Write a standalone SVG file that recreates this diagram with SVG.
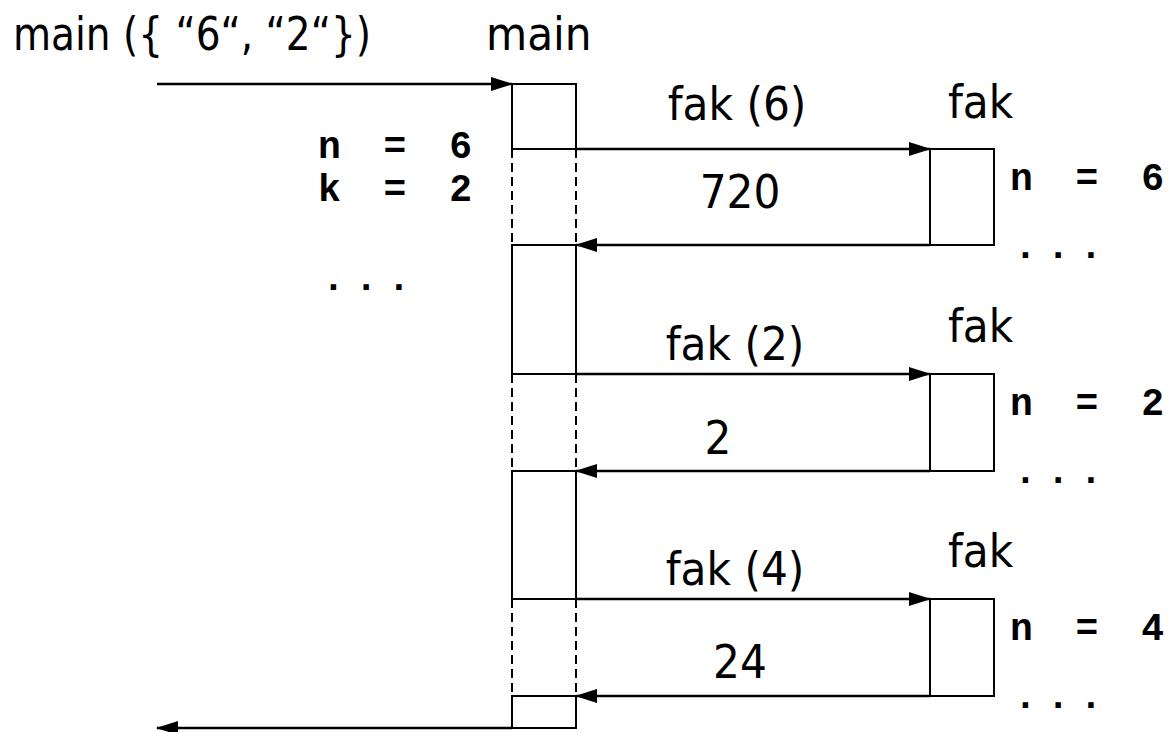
<svg xmlns="http://www.w3.org/2000/svg" width="1175" height="732" viewBox="0 0 1175 732">
<style>
.s{font-family:"DejaVu Sans Condensed","DejaVu Sans",sans-serif;font-size:47px;fill:#000}
.m{font-family:"Liberation Mono","Courier New",monospace;font-weight:bold;font-size:38px;letter-spacing:10px;fill:#000}
.box{fill:#fff;stroke:#000;stroke-width:2}
.dash{stroke:#000;stroke-width:2;stroke-dasharray:9 5;fill:none}
.arr{stroke:#000;stroke-width:2.5;fill:none;marker-end:url(#ah)}
</style>
<defs>
<marker id="ah" markerUnits="userSpaceOnUse" markerWidth="22" markerHeight="16" refX="21" refY="8" orient="auto">
<path d="M0,1 L22,8 L0,15 z" fill="#000"/>
</marker>
</defs>
<g id="labels">
<text class="s" x="13" y="50" textLength="358" lengthAdjust="spacingAndGlyphs">main ({ “6“, “2“})</text>
</g>
<g id="main">
<text class="s" x="486" y="50">main</text>
<rect class="box" x="512" y="84" width="64" height="65"/>
<rect class="box" x="512" y="245" width="64" height="129"/>
<rect class="box" x="512" y="471" width="64" height="128"/>
<rect class="box" x="512" y="696" width="64" height="32"/>
<path class="dash" d="M512,149 V245 M576,149 V245 M512,374 V471 M576,374 V471 M512,599 V696 M576,599 V696"/>
<text class="m" x="318" y="158" xml:space="preserve">n = 6</text>
<text class="m" x="318" y="201" xml:space="preserve">k = 2</text>
<text class="m" x="322" y="290">...</text>
</g>
<g id="fak1">
<text class="s" x="948" y="118">fak</text>
<rect class="box" x="930" y="149" width="64" height="96"/>
<text class="m" x="1010" y="190" xml:space="preserve">n = 6</text>
<text class="m" x="1014" y="258">...</text>
</g>
<g id="fak2">
<text class="s" x="948" y="342">fak</text>
<rect class="box" x="930" y="374" width="64" height="97"/>
<text class="m" x="1010" y="415" xml:space="preserve">n = 2</text>
<text class="m" x="1014" y="483">...</text>
</g>
<g id="fak3">
<text class="s" x="948" y="567">fak</text>
<rect class="box" x="930" y="599" width="64" height="97"/>
<text class="m" x="1010" y="640" xml:space="preserve">n = 4</text>
<text class="m" x="1014" y="708">...</text>
</g>
<g id="connectors">
<line class="arr" x1="157" y1="84" x2="512" y2="84"/>
<line class="arr" x1="576" y1="149" x2="930" y2="149"/>
<line class="arr" x1="930" y1="245" x2="576" y2="245"/>
<line class="arr" x1="576" y1="374" x2="930" y2="374"/>
<line class="arr" x1="930" y1="471" x2="576" y2="471"/>
<line class="arr" x1="576" y1="599" x2="930" y2="599"/>
<line class="arr" x1="930" y1="696" x2="576" y2="696"/>
<line class="arr" x1="512" y1="728" x2="157" y2="728"/>
<text class="s" x="737" y="120" text-anchor="middle">fak (6)</text>
<text class="s" x="740" y="208" text-anchor="middle">720</text>
<text class="s" x="735" y="360" text-anchor="middle">fak (2)</text>
<text class="s" x="718" y="454" text-anchor="middle">2</text>
<text class="s" x="735" y="585" text-anchor="middle">fak (4)</text>
<text class="s" x="740" y="678" text-anchor="middle">24</text>
</g>
</svg>
